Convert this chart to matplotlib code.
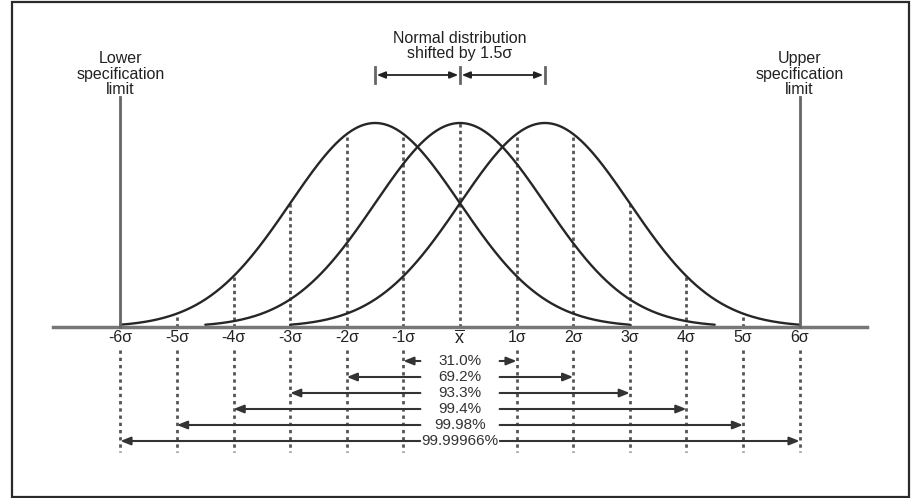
import numpy as np
import matplotlib
matplotlib.use("Agg")
import matplotlib.pyplot as plt
from matplotlib.patches import Rectangle

plt.rcParams['font.family'] = ['Liberation Sans', 'DejaVu Sans']
plt.rcParams['mathtext.fontset'] = 'custom'
plt.rcParams['mathtext.rm'] = 'Liberation Sans'

# ---- data ----
curve_means = [-1.5, 0.0, 1.5]          # in sigma units
curve_sd = 1.5                           # drawn width of each curve (sigma units)
curve_half_span = 4.5                    # each curve drawn mean +/- this
tick_positions = [-6, -5, -4, -3, -2, -1, 0, 1, 2, 3, 4, 5, 6]
tick_labels = ['-6σ', '-5σ', '-4σ', '-3σ', '-2σ', '-1σ', r'$\overline{\mathrm{x}}$',
               '1σ', '2σ', '3σ', '4σ', '5σ', '6σ']
coverage_sigma = [1, 2, 3, 4, 5, 6]
coverage_labels = ['31.0%', '69.2%', '93.3%', '99.4%', '99.98%', '99.99966%']
spec_limits = [-6, 6]
shift = 1.5

W, H = 919, 498
fig = plt.figure(figsize=(W / 100, H / 100), dpi=100)
ax = fig.add_axes([0, 0, 1, 1])
px_per_sigma = 56.6
px_per_unit = 204.0
x0_px, base_px = 460.0, 327.0
ax.set_xlim(-x0_px / px_per_sigma, (W - x0_px) / px_per_sigma)
ax.set_ylim(-(H - base_px) / px_per_unit, base_px / px_per_unit)
ax.axis('off')

def ypx(p):
    return (base_px - p) / px_per_unit

curve_col = '#262626'
dot_col = '#555555'
txt_col = '#222222'
FS = 11.5

def curve(x, m):
    return np.exp(-(x - m) ** 2 / (2 * curve_sd ** 2))

for m in curve_means:
    xs = np.linspace(m - curve_half_span, m + curve_half_span, 400)
    ax.plot(xs, curve(xs, m), color=curve_col, lw=1.7, solid_capstyle='round', zorder=3)

# dotted verticals above baseline
for k in tick_positions:
    if k in spec_limits:
        continue
    top = max(curve(k, m) if abs(k - m) <= curve_half_span else 0 for m in curve_means)
    ax.plot([k, k], [0, top], color=dot_col, lw=2, ls=(0, (1.2, 1.2)), zorder=2)

# baseline
ax.plot([-7.19, 7.19], [0, 0], color='#777777', lw=2.5, zorder=4)

# spec limit lines
for s in spec_limits:
    ax.plot([s, s], [0, ypx(97)], color='#666666', lw=2, zorder=4)
ax.text(-6, ypx(74), 'Lower\nspecification\nlimit', ha='center', va='center',
        fontsize=FS, linespacing=1.07, color=txt_col)
ax.text(6, ypx(74), 'Upper\nspecification\nlimit', ha='center', va='center',
        fontsize=FS, linespacing=1.07, color=txt_col)

# shift annotation
ax.text(0, ypx(46), 'Normal distribution\nshifted by 1.5σ', ha='center', va='center',
        fontsize=FS, linespacing=1.07, color=txt_col)
yb = ypx(75)
for xb in [-shift, 0, shift]:
    ax.plot([xb, xb], [ypx(67), ypx(83)], color='#666666', lw=2, zorder=4)
for a, b in [(-shift, 0), (0, shift)]:
    ax.annotate('', xy=(a + 0.03, yb), xytext=(b - 0.03, yb),
                arrowprops=dict(arrowstyle='<|-|>,head_length=0.5,head_width=0.2',
                                color='#222222', lw=1.3, shrinkA=0, shrinkB=0))

# tick labels
for k, lab in zip(tick_positions, tick_labels):
    ax.text(k, ypx(338), lab, ha='center', va='center',
            fontsize=FS + (1.5 if k == 0 else 0), color=txt_col)

# dotted verticals below
for k in tick_positions:
    if k == 0:
        continue
    ax.plot([k, k], [ypx(350), ypx(452)], color=dot_col, lw=2, ls=(0, (1.2, 1.4)), zorder=2)

# coverage arrows
for i, (k, lab) in enumerate(zip(coverage_sigma, coverage_labels)):
    y = ypx(361 + i * 16)
    for sgn in (-1, 1):
        ax.annotate('', xy=(sgn * k, y), xytext=(sgn * 0.7, y),
                    arrowprops=dict(arrowstyle='-|>,head_length=0.6,head_width=0.24',
                                    color='#333333', lw=1.5, shrinkA=0, shrinkB=0),
                    zorder=3)
    ax.text(0, y, lab, ha='center', va='center', fontsize=11, color='#333333',
            bbox=dict(facecolor='white', edgecolor='none', pad=0.5), zorder=5)

# frame
fig.patches.append(Rectangle((12 / W, 1 - 497 / H), 897 / W, 495 / H,
                             transform=fig.transFigure, fill=False,
                             edgecolor='#2a2a2a', lw=1.6))

fig.savefig('out.png', dpi=100, facecolor='white')
